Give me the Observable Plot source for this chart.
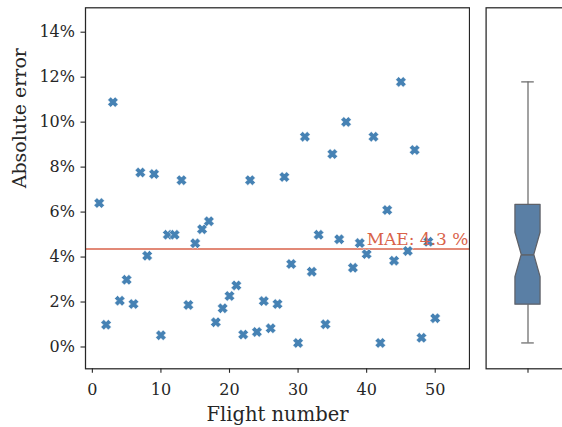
<!DOCTYPE html>
<html>
<head>
<meta charset="utf-8">
<script src="https://cdn.jsdelivr.net/npm/d3@7"></script>
<script src="https://cdn.jsdelivr.net/npm/@observablehq/plot@0.6"></script>
<style>
  html, body { margin: 0; padding: 0; background: white; }
  #wrap { position: relative; width: 562px; height: 427px; overflow: hidden; background: white; }
  #wrap svg { position: absolute; top: 0; max-width: none; }
</style>
</head>
<body>
<div id="wrap"></div>
<script>
// ---- data ----
const flights = [1,2,3,4,5,6,7,8,9,10,11,12,13,14,15,16,17,18,19,20,21,22,23,24,25,
                 26,27,28,29,30,31,32,33,34,35,36,37,38,39,40,41,42,43,44,45,46,47,48,49,50];
const absError = [6.40,0.99,10.89,2.06,2.99,1.91,7.76,4.06,7.69,0.52,4.99,4.99,7.42,1.87,4.61,
                  5.24,5.59,1.10,1.72,2.27,2.74,0.55,7.42,0.67,2.04,0.83,1.91,7.56,3.69,0.18,
                  9.35,3.35,4.99,1.01,8.58,4.79,10.01,3.52,4.62,4.13,9.35,0.18,6.09,3.84,11.79,
                  4.27,8.76,0.41,4.68,1.28];
const xTicks = [0,10,20,30,40,50];
const yTicks = [0,2,4,6,8,10,12,14];
const maeLabel = ["MAE: 4.3 %"];
const maeLabelAt = [40];

const data = flights.map((f, i) => ({flight: f, err: absError[i]}));
const mae = d3.mean(absError);

const ink = "#262626";
const pointColor = "#4682b4";
const maeColor = "#d9624a";
const font = "DejaVu Serif";

// filled "X" marker (plus rotated 45deg)
const xSymbol = {
  draw(ctx, size) {
    const L = Math.sqrt(size / Math.PI), w = L * 0.4;
    const pts = [[-w,-L],[w,-L],[w,-w],[L,-w],[L,w],[w,w],[w,L],[-w,L],[-w,w],[-L,w],[-L,-w],[-w,-w]];
    const c = Math.SQRT1_2;
    pts.forEach(([a,b], i) => {
      const x = (a - b) * c, y = (a + b) * c;
      if (i === 0) ctx.moveTo(x, y); else ctx.lineTo(x, y);
    });
    ctx.closePath();
  }
};

const yDomain = [-0.97, 15.085];
const mTop = 7.3, mBottom = 58.7;

const main = Plot.plot({
  width: 480, height: 427,
  marginLeft: 85, marginRight: 11, marginTop: mTop, marginBottom: mBottom,
  style: {fontFamily: font, fontSize: "16px", color: ink, background: "white"},
  x: {domain: [-1, 55]},
  y: {domain: yDomain},
  marks: [
    Plot.axisX({ticks: xTicks, tickSize: 4.5, tickPadding: 10, label: null, stroke: ink, strokeWidth: 1.1}),
    Plot.axisY({ticks: yTicks, tickSize: 4.5, tickPadding: 6, label: null, tickFormat: d => d + "%", stroke: ink, strokeWidth: 1.1}),
    Plot.text(["Flight number"], {frameAnchor: "bottom", dy: 46, fontSize: 19.5, fill: ink, lineAnchor: "middle"}),
    Plot.text(["Absolute error"], {frameAnchor: "left", dx: -66, rotate: -90, fontSize: 19, fill: ink, lineAnchor: "middle"}),
    Plot.ruleY([mae], {stroke: maeColor, strokeWidth: 1.5}),
    Plot.dot(data, {x: "flight", y: "err", symbol: xSymbol, r: 5.3, fill: pointColor, stroke: "white", strokeWidth: 0.5}),
    Plot.text(maeLabel, {x: maeLabelAt, y: [mae], textAnchor: "start", lineAnchor: "bottom", dy: -4, fontSize: 17, fill: maeColor}),
    Plot.frame({stroke: ink, strokeWidth: 1.25})
  ]
});

// ---- box panel stats ----
const sorted = absError.slice().sort(d3.ascending);
const q1 = d3.quantile(sorted, 0.25), med = d3.quantile(sorted, 0.5), q3 = d3.quantile(sorted, 0.75);
const iqr = q3 - q1;
const lo = d3.min(sorted.filter(v => v >= q1 - 1.5 * iqr));
const hi = d3.max(sorted.filter(v => v <= q3 + 1.5 * iqr));
const notch = 1.57 * iqr / Math.sqrt(sorted.length);
const bw = 0.15, nw = 0.075;
const boxShape = [
  {y: q1, h: bw}, {y: med - notch, h: bw}, {y: med, h: nw}, {y: med + notch, h: bw}, {y: q3, h: bw}
];
const boxStroke = "#5e6168";

const box = Plot.plot({
  width: 100, height: 427,
  marginLeft: 15.6, marginRight: 0.6, marginTop: mTop, marginBottom: mBottom,
  style: {fontFamily: font, fontSize: "16px", color: ink, background: "white"},
  x: {domain: [-0.5, 0.5], axis: null},
  y: {domain: yDomain, axis: null},
  marks: [
    Plot.axisX({ticks: [0], tickSize: 4.5, tickFormat: () => "", label: null, stroke: ink, strokeWidth: 1.1}),
    Plot.ruleX([0], {y1: q3, y2: hi, stroke: "#6a6a6a", strokeWidth: 1.25}),
    Plot.ruleX([0], {y1: lo, y2: q1, stroke: "#6a6a6a", strokeWidth: 1.25}),
    Plot.ruleY([hi, lo], {x1: -0.075, x2: 0.075, stroke: "#6a6a6a", strokeWidth: 1.25}),
    Plot.areaX(boxShape, {y: "y", x1: d => -d.h, x2: d => d.h, fill: "#5a7fa5", stroke: boxStroke, strokeWidth: 1.25, curve: "linear"}),
    Plot.ruleY([med], {x1: -nw, x2: nw, stroke: boxStroke, strokeWidth: 1.5}),
    Plot.frame({stroke: ink, strokeWidth: 1.25})
  ]
});

main.style.left = "0px";
box.style.left = "470px";
const wrap = document.getElementById("wrap");
wrap.appendChild(main);
wrap.appendChild(box);
</script>
</body>
</html>
